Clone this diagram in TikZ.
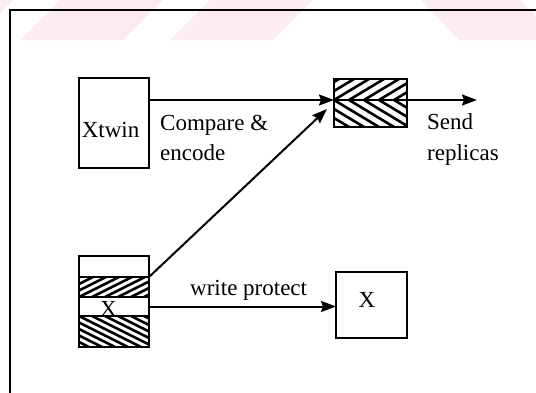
\documentclass[tikz,border=0pt]{standalone}
\usepackage{fontspec}
\setmainfont{Liberation Serif}
\usetikzlibrary{arrows.meta,calc}
\definecolor{wmpink}{RGB}{253,236,239}
\begin{document}
\begin{tikzpicture}[x=1pt,y=-1pt,
  box/.style={draw,line width=2.2pt,inner sep=0pt,outer sep=0pt},
  lbl/.style={font=\fontsize{23}{27}\selectfont,inner sep=0pt,anchor=base west},
  conn/.style={line width=2pt,-{Stealth[length=15pt,width=11pt,inset=2pt]}},
  hatch/.style={line width=2.6pt}]

% page and faint banner stripes along the top
\useasboundingbox (0,0) rectangle (536,392);
\fill[white] (0,0) rectangle (536,392);
\begin{scope}
  \clip (0,0) rectangle (536,40);
  \foreach \b in {-130,20,170}
    \fill[wmpink] (\b,40) -- ++(103,0) -- ++(40,-40) -- ++(-103,0) -- cycle;
  \fill[wmpink] (421,0) -- (520,0) -- (560,40) -- (459,40) -- cycle;
\end{scope}

% outer frame
\draw[line width=2.4pt] (10,400) -- (10,10) -- (546,10);

% boxes
\node[box,minimum width=70pt,minimum height=90pt] (xtwin) at (114,123) {};
\node[box,minimum width=73pt,minimum height=21pt] (repTop) at (370.5,89.5) {};
\node[box,minimum width=73pt,minimum height=27pt] (repBot) at (370.5,113.5) {};
\node[box,minimum width=70pt,minimum height=21pt] (row1) at (114,266.5) {};
\node[box,minimum width=70pt,minimum height=20pt] (row2) at (114,287) {};
\node[box,minimum width=70pt,minimum height=19pt] (row3) at (114,306.5) {};
\node[box,minimum width=70pt,minimum height=31pt] (row4) at (114,331.5) {};
\node[box,minimum width=71pt,minimum height=66pt] (bx) at (371.5,305) {};

% hatching
\begin{scope}
  \clip (repTop.south west) rectangle (repTop.north east);
  \foreach \i in {-3,...,6}
    \draw[hatch] ($(repTop.south west)+(\i*15,0)$) -- ++(50,-30);
\end{scope}
\begin{scope}
  \clip (repBot.north west) rectangle (repBot.south east);
  \foreach \i in {-4,...,6}
    \draw[hatch] ($(repBot.north west)+(\i*15,0)$) -- ++(60,36);
\end{scope}
\begin{scope}
  \clip (row2.south west) rectangle (row2.north east);
  \foreach \i in {-4,...,7}
    \draw[hatch] ($(row2.south west)+(\i*13,0)$) -- ++(60,-30);
\end{scope}
\begin{scope}
  \clip (row4.north west) rectangle (row4.south east);
  \foreach \i in {-6,...,7}
    \draw[hatch] ($(row4.north west)+(\i*13,0)$) -- ++(80,40);
\end{scope}

% texts
\node[lbl,anchor=base] (xtwinlbl) at (110.5,137) {Xtwin};
\node[lbl] (cmp1) at (160,130) {Compare \&};
\node[lbl] (cmp2) at (160,160) {encode};
\node[lbl] (send1) at (427,129) {Send};
\node[lbl] (send2) at (427,160) {replicas};
\node[lbl] (wp) at (190,295) {write protect};
\node[lbl,anchor=base] (xs) at (108.5,316) {X};
\node[lbl,anchor=base] (xb) at (367,307) {X};

% connectors
\coordinate (sendEnd) at (477,100);
\draw[conn] (xtwin.east |- repTop.south west) -- (repTop.south west);
\draw[conn] (repTop.south east) -- (sendEnd);
\draw[conn] (row1.south east) -- ($(repBot.west)+(-7,-4.5)$);
\draw[conn] (row3.east) -- (row3.east -| bx.west);
\end{tikzpicture}
\end{document}
